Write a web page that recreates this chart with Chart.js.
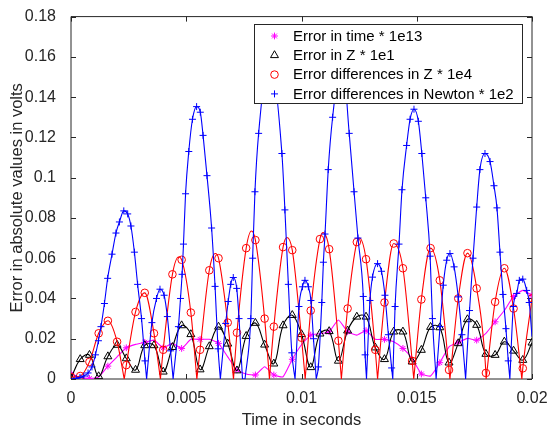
<!DOCTYPE html>
<html>
<head>
<meta charset="utf-8">
<script src="https://cdn.jsdelivr.net/npm/chart.js@4.4.1/dist/chart.umd.min.js"></script>
<style>
  html, body { margin: 0; padding: 0; background: #ffffff; }
  #wrap { width: 559px; height: 428px; }
</style>
</head>
<body>
<div id="wrap"><canvas id="c" width="559" height="428"></canvas></div>
<script>
// Sample instants (s) shared by the time, Z and Z-difference error traces
const sampleTimes = [0, 0.0004, 0.0008, 0.0012, 0.0016, 0.002, 0.0024, 0.0028, 0.0032, 0.0036,
  0.004, 0.0044, 0.0048, 0.0052, 0.0056, 0.006, 0.0064, 0.0068, 0.0072, 0.0076,
  0.008, 0.0084, 0.0088, 0.0092, 0.0096, 0.01, 0.0104, 0.0108, 0.0112, 0.0116,
  0.012, 0.0124, 0.0128, 0.0132, 0.0136, 0.014, 0.0144, 0.0148, 0.0152, 0.0156,
  0.016, 0.0164, 0.0168, 0.0172, 0.0176, 0.018, 0.0184, 0.0188, 0.0192, 0.0196, 0.02];

// Error in time * 1e13 (markers on every second sample)
const timeErr = [0.0025, 0.0008, 0.0003, 0.001, 0.0064, 0.011, 0.0155, 0.0172, 0.0182, 0.0193,
  0.0155, 0.0177, 0.0152, 0.0197, 0.0197, 0.0197, 0.0177, 0.011, 0.0045, 0.0025,
  0.002, 0.0061, 0.002, 0.0011, 0.0098, 0.017, 0.0218, 0.0225, 0.0235, 0.0293,
  0.0235, 0.0218, 0.024, 0.0197, 0.0197, 0.0185, 0.0152, 0.0102, 0.0025, 0.0015,
  0.0081, 0.016, 0.0182, 0.0202, 0.0193, 0.0227, 0.0284, 0.034, 0.041, 0.044, 0.0415];

// Error in Z * 1e1
const zErr = [0.0003, 0.0098, 0.0119, 0.0013, 0.0112, 0.0169, 0.0102, 0.0045, 0.0167, 0.0167,
  0.0036, 0.0158, 0.0266, 0.0222, 0.0047, 0.0162, 0.0259, 0.0175, 0.0042, 0.0213,
  0.0278, 0.017, 0.0076, 0.0266, 0.0317, 0.0222, 0.0058, 0.0225, 0.0237, 0.009,
  0.024, 0.0309, 0.0309, 0.0156, 0.0098, 0.0235, 0.0235, 0.0086, 0.0144, 0.0258,
  0.0256, 0.0081, 0.0177, 0.0296, 0.0268, 0.0124, 0.0119, 0.0185, 0.014, 0.0094, 0.018];

// Error differences in Z * 1e4
const zDiffErr = [0.001, 0.0015, 0.0085, 0.0227, 0.0289, 0.0185, 0.0069, 0.0333, 0.0428, 0.0227,
  0.0145, 0.052, 0.0592, 0.033, 0.0145, 0.054, 0.06, 0.028, 0.023, 0.065,
  0.069, 0.03, 0.026, 0.0655, 0.064, 0.0205, 0.034, 0.0695, 0.0645, 0.019,
  0.035, 0.068, 0.0595, 0.0145, 0.038, 0.0673, 0.055, 0.009, 0.0395, 0.065,
  0.049, 0.0045, 0.04, 0.0625, 0.045, 0.003, 0.0383, 0.055, 0.035, 0.0053, 0.04];
// instants where the Z-difference error touches zero, and arc tops between samples
const zDiffZeros = [0.00231, 0.00388, 0.00546, 0.00705, 0.00861, 0.01016, 0.01173, 0.0133,
  0.01487, 0.01644, 0.01801, 0.01956];
const zDiffTops = [[0.00467, 0.0606], [0.00626, 0.0623], [0.00783, 0.0735], [0.00937, 0.0703],
  [0.01093, 0.0727], [0.01251, 0.07]];

// Error differences in Newton * 1e2: solver steps [t, value]
const newtonErr = [
  [0.00022, 0.0003], [0.00039, 0.0008], [0.00056, 0.0015], [0.00074, 0.003], [0.00091, 0.006],
  [0.00106, 0.012], [0.00119, 0.019], [0.0013, 0.026], [0.00145, 0.0375], [0.00159, 0.05],
  [0.00178, 0.062], [0.00195, 0.0725], [0.0021, 0.078], [0.00229, 0.0835], [0.00246, 0.082],
  [0.0026, 0.076], [0.00275, 0.063], [0.00289, 0.047], [0.00306, 0.03], [0.00321, 0.009],
  [0.00351, 0.028], [0.00371, 0.04], [0.00386, 0.0446], [0.00404, 0.0416], [0.00418, 0.031],
  [0.00432, 0.014],
  [0.00466, 0.026], [0.00475, 0.04], [0.00482, 0.052], [0.00488, 0.067], [0.00497, 0.092],
  [0.00511, 0.113], [0.00527, 0.129], [0.00545, 0.1353], [0.00561, 0.1325], [0.00573, 0.121],
  [0.0059, 0.101], [0.0061, 0.075], [0.00625, 0.046], [0.00638, 0.015],
  [0.00671, 0.0276], [0.00682, 0.0385], [0.00693, 0.047], [0.00704, 0.0504], [0.00719, 0.045],
  [0.00729, 0.03],
  [0.0078, 0.03], [0.00788, 0.06], [0.00798, 0.093], [0.00814, 0.122],
  [0.00915, 0.112], [0.00928, 0.084], [0.00943, 0.047], [0.00958, 0.013],
  [0.00989, 0.036], [0.01004, 0.0458], [0.01015, 0.049], [0.0103, 0.0458], [0.01041, 0.039],
  [0.01052, 0.02],
  [0.01073, 0.006], [0.01088, 0.038], [0.01095, 0.058], [0.01102, 0.072], [0.01116, 0.104],
  [0.01135, 0.13], [0.01207, 0.122], [0.01228, 0.093], [0.01245, 0.07], [0.01268, 0.041],
  [0.01276, 0.012],
  [0.01297, 0.039], [0.01308, 0.0506], [0.0133, 0.0573], [0.01347, 0.0535], [0.01362, 0.0416],
  [0.01377, 0.022], [0.01391, 0.0055],
  [0.01406, 0.036], [0.01423, 0.067], [0.01436, 0.094], [0.01456, 0.116], [0.01471, 0.129],
  [0.01488, 0.134], [0.01507, 0.128], [0.01522, 0.112], [0.01539, 0.09], [0.01558, 0.061],
  [0.01568, 0.03],
  [0.01601, 0.026], [0.01615, 0.0466], [0.0163, 0.059], [0.01644, 0.0623], [0.01662, 0.0557],
  [0.0168, 0.0408], [0.01696, 0.022],
  [0.01729, 0.034], [0.01744, 0.06], [0.0176, 0.0854], [0.01774, 0.104], [0.01796, 0.112],
  [0.01818, 0.108], [0.01835, 0.096], [0.01848, 0.085], [0.01861, 0.063], [0.01874, 0.042],
  [0.01887, 0.025], [0.01897, 0.009],
  [0.01919, 0.036], [0.01934, 0.0425], [0.01945, 0.049], [0.0196, 0.0496], [0.01977, 0.044],
  [0.01988, 0.038]
];
const newtonZeros = [0, 0.00328, 0.00443, 0.00648, 0.00744, 0.00755, 0.00972, 0.01064, 0.01282,
  0.01396, 0.01584, 0.01712, 0.01904];
const newtonTops = [[0.00861, 0.16], [0.01176, 0.16], [0.02, 0.021]];

// Axis ticks
const xTickValues = [0, 0.005, 0.01, 0.015, 0.02];
const xTickLabels = ['0', '0.005', '0.01', '0.015', '0.02'];
const yTickValues = [0, 0.02, 0.04, 0.06, 0.08, 0.1, 0.12, 0.14, 0.16, 0.18];
const yTickLabels = ['0', '0.02', '0.04', '0.06', '0.08', '0.1', '0.12', '0.14', '0.16', '0.18'];

const seriesNames = ['Error in time * 1e13', 'Error in Z * 1e1',
  'Error differences in Z * 1e4', 'Error differences in Newton * 1e2'];

// ---------- helpers ----------
const pairUp = (xs, ys) => xs.map((x, i) => ({ x, y: ys[i] }));

// Merge samples, zero touches and arc tops; break the polyline at each zero
// so every |.|-shaped arc meets the axis in a sharp V.
function arcCurve(points, zeros, tops) {
  const all = points.map(p => ({ x: p.x, y: p.y, z: false }))
    .concat(tops.map(([x, y]) => ({ x, y, z: false })))
    .concat(zeros.map(x => ({ x, y: 0, z: true })));
  all.sort((a, b) => a.x - b.x);
  const out = [];
  all.forEach(p => {
    out.push({ x: p.x, y: p.y });
    if (p.z) { out.push({ x: p.x, y: null }); out.push({ x: p.x, y: 0 }); }
  });
  return out;
}

const MAG = '#ff00ff', BLK = '#000000', RED = '#ff0000', BLU = '#0000ff';
const FONT = '"Liberation Sans", Arial, Helvetica, sans-serif';
const AXC = '#262626';

const timePts = pairUp(sampleTimes, timeErr);
const zPts = pairUp(sampleTimes, zErr);
const zDiffPts = pairUp(sampleTimes, zDiffErr);
const newtonPts = newtonErr.map(([x, y]) => ({ x, y }));

function lineSet(data, color, tension, order, monotone) {
  return { data, borderColor: color, borderWidth: 1.1, pointRadius: 0, pointHoverRadius: 0,
    fill: false, tension, spanGaps: false, order,
    cubicInterpolationMode: monotone ? 'monotone' : 'default' };
}
function markSet(data, color, style, radius, order) {
  return { data, showLine: false, borderColor: color, pointBorderColor: color,
    pointBackgroundColor: 'rgba(0,0,0,0)', pointStyle: style, pointRadius: radius,
    pointBorderWidth: 1, pointHoverRadius: radius, order };
}

const legendItems = [
  { name: seriesNames[0], color: MAG, style: 'star', radius: 3.4 },
  { name: seriesNames[1], color: BLK, style: 'triangle', radius: 4.6 },
  { name: seriesNames[2], color: RED, style: 'circle', radius: 3.8 },
  { name: seriesNames[3], color: BLU, style: 'cross', radius: 3.5 }
];

// Box with inward tick marks on all four sides
const boxPlugin = {
  id: 'box',
  beforeDatasetsDraw(chart) {
    const { ctx, chartArea: a, scales } = chart;
    ctx.save();
    ctx.strokeStyle = AXC;
    ctx.lineWidth = 1;
    ctx.beginPath();
    ctx.rect(a.left, a.top, a.right - a.left, a.bottom - a.top);
    xTickValues.forEach(v => {
      const px = Math.round(scales.x.getPixelForValue(v)) + 0.5;
      ctx.moveTo(px, a.bottom); ctx.lineTo(px, a.bottom - 5);
      ctx.moveTo(px, a.top); ctx.lineTo(px, a.top + 5);
    });
    yTickValues.forEach(v => {
      const py = Math.round(scales.y.getPixelForValue(v)) + 0.5;
      ctx.moveTo(a.left, py); ctx.lineTo(a.left + 5, py);
      ctx.moveTo(a.right, py); ctx.lineTo(a.right - 5, py);
    });
    ctx.stroke();
    ctx.restore();
  }
};

// Opaque legend box inside the top-right of the plot
const legendBoxPlugin = {
  id: 'legendBox',
  afterDatasetsDraw(chart) {
    const { ctx } = chart;
    const bx = 254, by = 24, bw = 269, bh = 80;
    ctx.save();
    ctx.fillStyle = '#ffffff';
    ctx.fillRect(bx, by, bw, bh);
    ctx.strokeStyle = AXC;
    ctx.lineWidth = 1;
    ctx.strokeRect(bx + 0.5, by + 0.5, bw - 1, bh - 1);
    ctx.font = '15px ' + FONT;
    ctx.textBaseline = 'middle';
    ctx.textAlign = 'left';
    legendItems.forEach((it, i) => {
      const cy = by + 12 + i * 19.3;
      ctx.strokeStyle = it.color;
      ctx.fillStyle = 'rgba(0,0,0,0)';
      ctx.lineWidth = 1;
      Chart.helpers.drawPoint(ctx, { pointStyle: it.style, radius: it.radius, rotation: 0, borderWidth: 1 }, 274.5, cy);
      ctx.fillStyle = '#000000';
      ctx.fillText(it.name, 293, cy + 0.5);
    });
    ctx.restore();
  }
};

new Chart(document.getElementById('c'), {
  type: 'line',
  data: {
    datasets: [
      lineSet(timePts, MAG, 0.15, 8, false),
      markSet(timePts.filter((_, i) => i % 2 === 0), MAG, 'star', 3.4, 7),
      lineSet(zPts, BLK, 0.4, 6, false),
      markSet(zPts, BLK, 'triangle', 4.6, 5),
      lineSet(arcCurve(zDiffPts, zDiffZeros, zDiffTops), RED, 0.4, 4, true),
      markSet(zDiffPts, RED, 'circle', 3.8, 3),
      lineSet(arcCurve(newtonPts, newtonZeros, newtonTops), BLU, 0.4, 2, true),
      markSet(newtonPts, BLU, 'cross', 3.5, 1)
    ]
  },
  options: {
    responsive: false,
    animation: false,
    devicePixelRatio: 1,
    layout: { padding: { left: 0, right: 27, top: 16, bottom: 0 } },
    plugins: { legend: { display: false }, tooltip: { enabled: false } },
    events: [],
    scales: {
      x: {
        type: 'linear', min: 0, max: 0.02,
        grid: { display: false }, border: { display: false },
        afterBuildTicks: s => { s.ticks = xTickValues.map(v => ({ value: v })); },
        afterFit: s => { s.height = 49; },
        ticks: { autoSkip: false, maxRotation: 0, padding: 2, color: AXC,
          font: { family: FONT, size: 16 }, callback: (v, i) => xTickLabels[i] },
        title: { display: true, text: 'Time in seconds', color: AXC,
          font: { family: FONT, size: 16.5 }, padding: { top: 0, bottom: -2 } }
      },
      y: {
        type: 'linear', min: 0, max: 0.18,
        grid: { display: false }, border: { display: false },
        afterBuildTicks: s => { s.ticks = yTickValues.map(v => ({ value: v })); },
        afterFit: s => { s.width = 71; },
        ticks: { autoSkip: false, padding: 7, color: AXC,
          font: { family: FONT, size: 16 }, callback: (v, i) => yTickLabels[i] },
        title: { display: true, text: 'Error in absolute values in volts', color: AXC,
          font: { family: FONT, size: 16.5 }, padding: { top: 8, bottom: 0 } }
      }
    }
  },
  plugins: [boxPlugin, legendBoxPlugin]
});
</script>
</body>
</html>
